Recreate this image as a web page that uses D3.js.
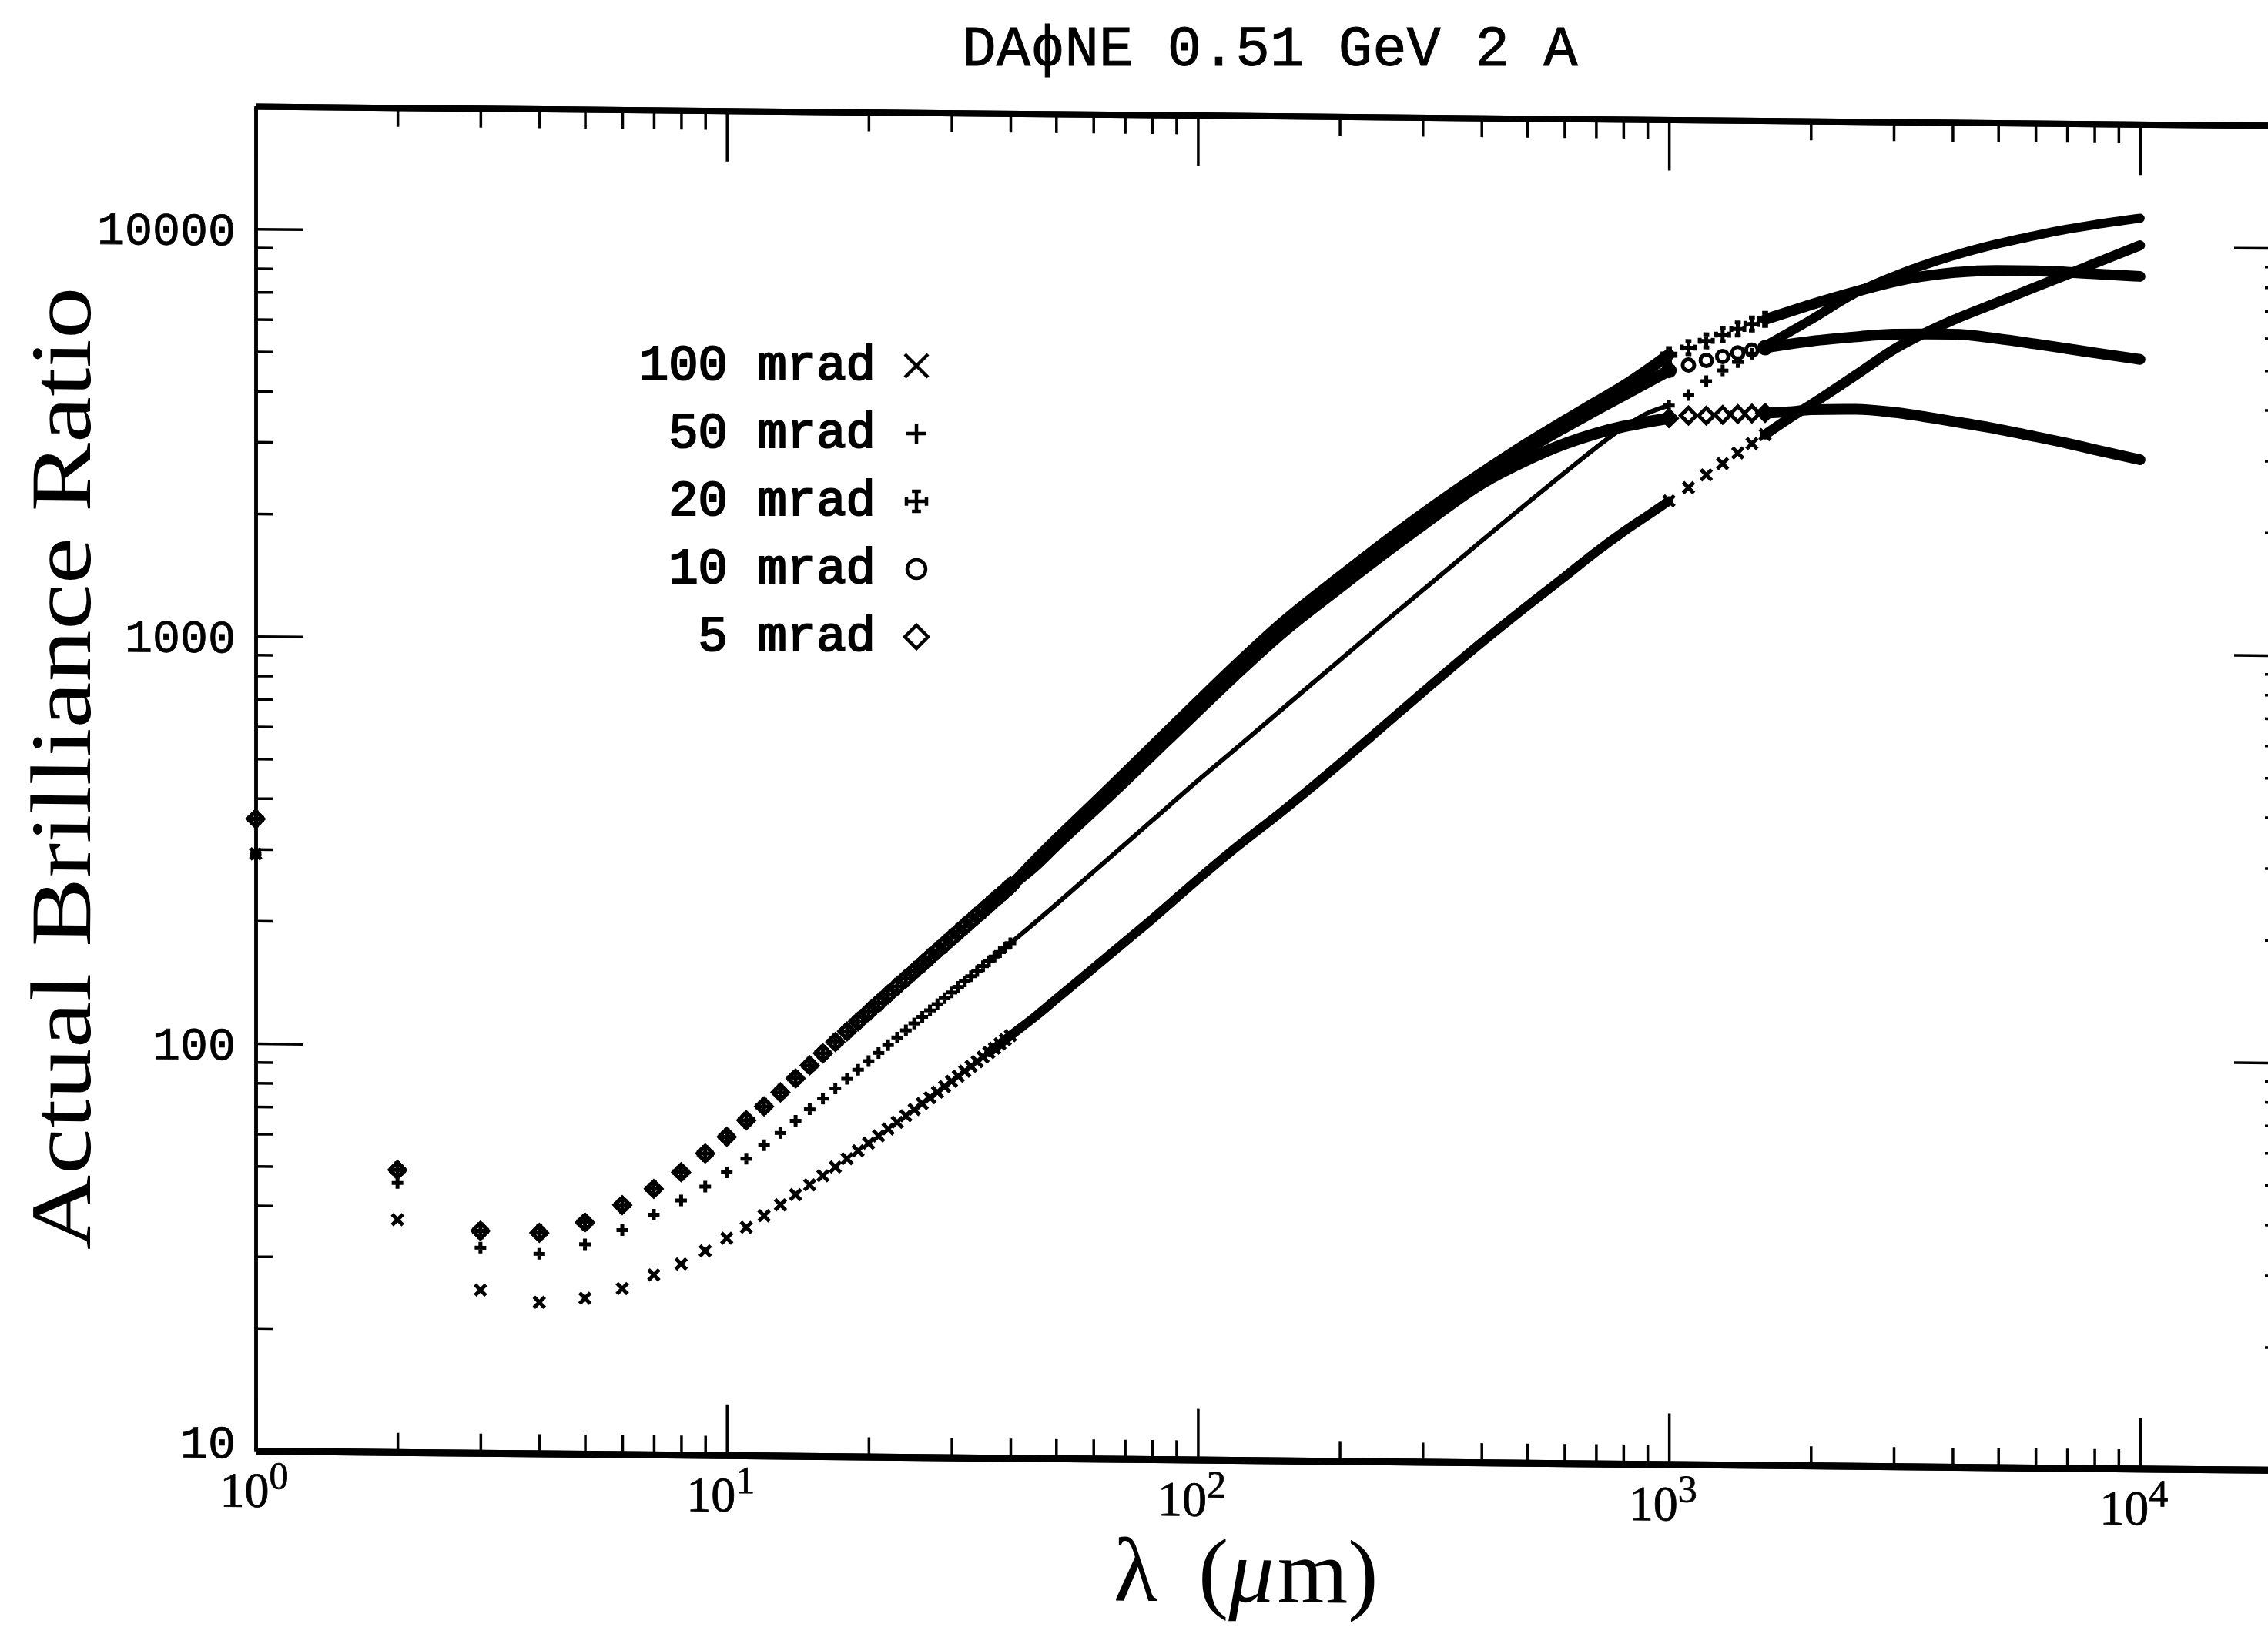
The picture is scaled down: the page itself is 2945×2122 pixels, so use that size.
<!DOCTYPE html>
<html>
<head>
<meta charset="utf-8">
<script src="https://cdn.jsdelivr.net/npm/d3@7"></script>
<style>
  body { margin: 0; background: #fff; }
  svg { display: block; }
</style>
</head>
<body>
<div class="chart-holder"></div>
<script>
// wavelengths in um. the low part is one point per um, the tail one per 100 um
var lambdaLow = [1,2,3,4,5,6,7,8,9,10,11,12,13,14,15,16,17,18,19,20,21,22,23,24,25,26,27,28,29,30,31,32,33,34,35,36,37,38,39,40];
var lambdaMid = [45, 50, 60, 70, 80, 100, 120, 150, 200, 250, 300, 400, 500, 600, 700, 800, 900, 1000];
var lambdaTail = [1000, 1100, 1200, 1300, 1400, 1500, 1600, 1800, 2000, 2500, 3000, 4000, 5000, 6000, 7000, 8000, 10000];

// 5, 10 and 20 mrad sit on top of each other below 40 um
var clusterLow = [356, 49.3, 35.1, 34.8, 37.0, 40.9, 44.9, 49.4, 55.0, 60.5, 66.5, 72.0, 78.0, 84.5, 91.0, 97.5, 104, 110.5, 117, 123.5,
  130, 136.5, 143, 149.5, 156, 162.5, 169, 175.5, 182, 188.5, 195, 201.5, 208, 214.5, 221, 227.5, 234, 240.5, 247, 253.5];
var mrad50Low = [292, 45.8, 31.9, 30.9, 32.7, 35.5, 38.8, 42.1, 45.6, 49.5, 53.5, 57.8, 62.0, 66.5, 71.0, 75.5, 80.0, 84.5, 89.0, 93.5,
  98.0, 102.5, 107, 111.5, 116, 120.5, 125, 129.5, 134, 138.5, 143, 147.5, 152, 156.5, 161, 165.5, 170, 174.5, 179, 183.5];
var mrad100Low = [292, 37.2, 25.1, 23.5, 24.1, 25.5, 27.6, 29.4, 31.7, 34.1, 36.3, 38.8, 41.3, 43.8, 46.3, 48.8, 51.3, 53.8, 56.3, 58.8,
  61.3, 63.8, 66.3, 68.8, 71.3, 73.8, 76.3, 78.8, 81.3, 83.8, 86.3, 88.8, 91.3, 93.8, 96.3, 98.8, 101.3, 103.8, 106.3, 108.8];

var mrad100Mid = [121, 134, 160, 186, 212, 266, 318, 390, 515, 645, 775, 1030, 1270, 1500, 1730, 1940, 2130, 2318];
var mrad50Mid  = [206, 229, 276, 323, 370, 465, 556, 695, 925, 1155, 1380, 1830, 2270, 2700, 3120, 3500, 3800, 3974];
var mrad20Mid  = [292, 330, 405, 482, 562, 725, 890, 1130, 1480, 1810, 2120, 2680, 3180, 3620, 4030, 4420, 4850, 5300];
var mrad10Mid  = [288, 325, 398, 473, 550, 708, 868, 1100, 1440, 1760, 2060, 2620, 3090, 3490, 3860, 4200, 4530, 4844];
var mrad5Mid   = [284, 320, 390, 462, 537, 690, 845, 1070, 1395, 1705, 1995, 2530, 2900, 3180, 3380, 3520, 3620, 3700];

var mrad100Tail = [2318, 2500, 2690, 2870, 3050, 3220, 3390, 3720, 4020, 4780, 5520, 6530, 7260, 7920, 8510, 9070, 10080];
var mrad50Tail  = [3974, 4220, 4570, 4860, 5100, 5350, 5600, 6050, 6500, 7600, 8350, 9400, 10100, 10600, 11000, 11300, 11750];
var mrad20Tail  = [5300, 5520, 5740, 5950, 6150, 6330, 6500, 6800, 7080, 7650, 8100, 8550, 8680, 8680, 8630, 8560, 8460];
var mrad10Tail  = [4844, 5000, 5140, 5260, 5370, 5460, 5540, 5660, 5760, 5920, 6020, 6040, 5900, 5740, 5600, 5480, 5290];
var mrad5Tail   = [3700, 3760, 3760, 3780, 3800, 3815, 3830, 3860, 3910, 3930, 3870, 3690, 3540, 3400, 3280, 3170, 3000];

var seriesLabels = ["100 mrad", "50 mrad", "20 mrad", "10 mrad", "5 mrad"];
var yTickLabels = ["10", "100", "1000", "10000"];

var W = 2945, H = 2122;
var skew = 0.0095;   // the scan is slightly sheared

var x = d3.scaleLog().domain([1, 20000]).range([332, 2963]);
var y = d3.scaleLog().domain([10, 20000]).range([1884, 138]);

var symbols = {
  cross: function(s){ return "M"+(-s)+","+(-s)+"L"+s+","+s+"M"+(-s)+","+s+"L"+s+","+(-s); },
  plus: function(s){ return "M"+(-s)+",0L"+s+",0M0,"+(-s)+"L0,"+s; },
  barPlus: function(s){
    var b = s*0.45;
    return "M"+(-s)+",0L"+s+",0M0,"+(-s)+"L0,"+s+
      "M"+(-b)+","+(-s)+"L"+b+","+(-s)+"M"+(-b)+","+s+"L"+b+","+s+
      "M"+(-s)+","+(-b)+"L"+(-s)+","+b+"M"+s+","+(-b)+"L"+s+","+b;
  },
  circle: function(s){ return "M"+s+",0A"+s+","+s+" 0 1,1 "+(-s)+",0A"+s+","+s+" 0 1,1 "+s+",0Z"; },
  diamond: function(s){ return "M0,"+(-s)+"L"+s+",0L0,"+s+"L"+(-s)+",0Z"; }
};

var series = [
  {label: seriesLabels[0], symbol: "cross",   size: 7,   low: mrad100Low, mid: mrad100Mid, tail: mrad100Tail, midWidth: 12, tailWidth: 13},
  {label: seriesLabels[1], symbol: "plus",    size: 7.5, low: mrad50Low,  mid: mrad50Mid,  tail: mrad50Tail,  midWidth: 6,  tailWidth: 12},
  {label: seriesLabels[2], symbol: "barPlus", size: 8.5, low: clusterLow, mid: mrad20Mid,  tail: mrad20Tail,  midWidth: 15, tailWidth: 14},
  {label: seriesLabels[3], symbol: "circle",  size: 7.5, low: clusterLow, mid: mrad10Mid,  tail: mrad10Tail,  midWidth: 15, tailWidth: 14},
  {label: seriesLabels[4], symbol: "diamond", size: 10,  low: clusterLow, mid: mrad5Mid,   tail: mrad5Tail,   midWidth: 15, tailWidth: 14}
];

var svg = d3.select(".chart-holder").append("svg")
    .attr("width", W).attr("height", H);
svg.append("rect").attr("width", W).attr("height", H).attr("fill", "#fff");

var plot = svg.append("g")
    .attr("transform", "matrix(1," + skew + ",0,1,0," + (-skew * 332) + ")");

// tick positions
var xMajor = [1, 10, 100, 1000, 10000], xMinor = [];
for (var e = 0; e < 4; e++) for (var m = 2; m <= 9; m++) xMinor.push(m * Math.pow(10, e));
var yMajor = [10, 100, 1000, 10000], yMinor = [];
for (var e2 = 1; e2 < 4; e2++) for (var m2 = 2; m2 <= 9; m2++) yMinor.push(m2 * Math.pow(10, e2));

function styleAxis(g, w) {
  g.select(".domain").attr("stroke", "#000").attr("stroke-width", w);
  g.selectAll(".tick line").attr("stroke", "#000").attr("stroke-width", 3.5);
  g.selectAll(".tick text").remove();
}

var axes = [
  {gen: d3.axisBottom(x), at: "translate(0," + y(10) + ")", w: 9},
  {gen: d3.axisTop(x), at: "translate(0," + y(20000) + ")", w: 8},
];
axes.forEach(function(a) {
  plot.append("g").attr("transform", a.at)
      .call(a.gen.tickValues(xMajor).tickSize(-66).tickSizeOuter(0))
      .call(styleAxis, a.w);
  plot.append("g").attr("transform", a.at)
      .call(a.gen.tickValues(xMinor).tickSize(-25).tickSizeOuter(0))
      .call(styleAxis, a.w);
});
var yAxes = [
  {gen: d3.axisLeft(y), at: "translate(" + x(1) + ",0)", w: 4.5},
  {gen: d3.axisRight(y), at: "translate(" + x(20000) + ",0)", w: 4.5}
];
yAxes.forEach(function(a) {
  plot.append("g").attr("transform", a.at)
      .call(a.gen.tickValues(yMajor).tickSize(-62).tickSizeOuter(0))
      .call(styleAxis, a.w);
  plot.append("g").attr("transform", a.at)
      .call(a.gen.tickValues(yMinor).tickSize(-22).tickSizeOuter(0))
      .call(styleAxis, a.w);
});

// tick labels
plot.append("g").selectAll("text")
    .data(yMajor)
  .enter().append("text")
    .attr("x", 306)
    .attr("y", function(d, i) { return y(d) - (i === 0 ? 12 : 0); })
    .attr("dy", "0.36em")
    .attr("text-anchor", "end")
    .style("font-family", "'Liberation Mono', monospace")
    .style("font-size", "60px")
    .style("stroke", "#000").style("stroke-width", 0.8)
    .text(function(d, i) { return yTickLabels[i]; });

var xLab = plot.append("g").selectAll("text")
    .data(xMajor)
  .enter().append("text")
    .attr("x", function(d, i) { return x(d) - (i === 0 ? 2 : 8); })
    .attr("y", 1957)
    .attr("text-anchor", "middle")
    .style("font-family", "'Liberation Serif', serif")
    .style("font-size", "64px")
    .style("stroke", "#000").style("stroke-width", 0.8);
xLab.append("tspan").text("10");
xLab.append("tspan").attr("dy", -24).style("font-size", "50px")
    .text(function(d) { return Math.round(Math.log10(d)); });

// dense stretches of markers run together into solid bands
var band = d3.line()
    .x(function(d) { return x(d[0]); })
    .y(function(d) { return y(d[1]); })
    .curve(d3.curveMonotoneX);

var data = plot.append("g").attr("class", "data");
series.forEach(function(s) {
  var low = lambdaLow.map(function(l, i) { return [l, s.low[i]]; });
  var mid = lambdaMid.map(function(l, i) { return [l, s.mid[i]]; });
  var tail = lambdaTail.map(function(l, i) { return [l, s.tail[i]]; });

  data.append("path")
      .attr("d", band(low.filter(function(p) { return p[0] >= 36; }).concat(mid)))
      .attr("fill", "none").attr("stroke", "#000")
      .attr("stroke-width", s.midWidth).attr("stroke-linecap", "round");
  data.append("path")
      .attr("d", band(tail.filter(function(p) { return p[0] >= 1600; })))
      .attr("fill", "none").attr("stroke", "#000")
      .attr("stroke-width", s.tailWidth).attr("stroke-linecap", "round");

  var pts = low.concat(tail.filter(function(p) { return p[0] <= 1600; }));
  data.append("g").selectAll("path")
      .data(pts)
    .enter().append("path")
      .attr("transform", function(d) { return "translate(" + x(d[0]) + "," + y(d[1]) + ")"; })
      .attr("d", symbols[s.symbol](s.size))
      .attr("fill", "none").attr("stroke", "#000").attr("stroke-width", 5);
});

// axis titles
plot.append("text")
    .attr("transform", "translate(117,1000) rotate(-90)")
    .attr("text-anchor", "middle")
    .attr("textLength", 1250).attr("lengthAdjust", "spacingAndGlyphs")
    .style("font-family", "'Liberation Serif', serif")
    .style("font-size", "112px")
    .text("Actual Brilliance Ratio");

var xt = plot.append("text")
    .attr("y", 2068)
    .style("font-family", "'Liberation Serif', serif")
    .style("font-size", "118px");
xt.append("tspan").attr("x", 1446).text("\u03bb");
xt.append("tspan").attr("x", 1556).text("(");
xt.append("tspan").style("font-style", "italic").text("\u03bc");
xt.append("tspan").attr("dx", 4).text("m)");

// title
svg.append("text")
    .attr("x", 1649).attr("y", 85)
    .attr("text-anchor", "middle")
    .style("font-family", "'Liberation Mono', monospace")
    .style("font-size", "74px")
    .style("stroke", "#000").style("stroke-width", 1)
    .text("DA\u03d5NE 0.51 GeV 2 A");

// legend
var legend = svg.append("g").attr("class", "legend");
var legendSize = [15, 13, 13, 12, 15];
series.forEach(function(s, i) {
  var by = 493 + i * 88;
  legend.append("text")
      .attr("x", 1137).attr("y", by)
      .attr("text-anchor", "end")
      .style("font-family", "'Liberation Mono', monospace")
      .style("font-size", "64px")
      .style("stroke", "#000").style("stroke-width", 2.2)
      .text(s.label);
  legend.append("path")
      .attr("transform", "translate(1190," + (by - 18) + ")")
      .attr("d", symbols[s.symbol](legendSize[i]))
      .attr("fill", "none").attr("stroke", "#000").attr("stroke-width", 4.5);
});
</script>
</body>
</html>
